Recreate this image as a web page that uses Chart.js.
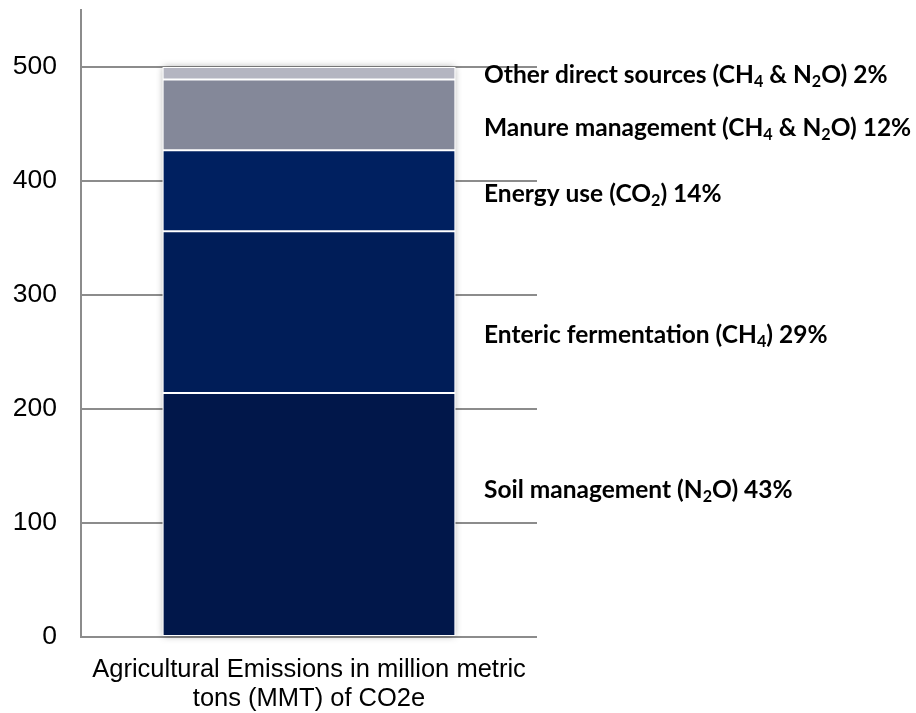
<!DOCTYPE html>
<html>
<head>
<meta charset="utf-8">
<script src="https://cdn.jsdelivr.net/npm/chart.js@4/dist/chart.umd.min.js"></script>
<style>
  html, body { margin: 0; padding: 0; background: #fff; }
  #wrap { width: 916px; height: 713px; position: relative; }
</style>
</head>
<body>
<div id="wrap"><canvas id="c" width="916" height="713"></canvas></div>
<script>
// ---- data ----
const categories = [["Agricultural Emissions in million metric", "tons (MMT) of CO2e"]];
const seriesNames = ["Soil management", "Enteric fermentation", "Energy use", "Manure management", "Other direct sources"];
const seriesValues = [214, 142, 71, 62, 11];
const seriesLabels = [
  "Soil management (N_2O) 43%",
  "Enteric fermentation (CH_4) 29%",
  "Energy use (CO_2) 14%",
  "Manure management (CH_4 & N_2O) 12%",
  "Other direct sources (CH_4 & N_2O) 2%"
];
const yTicks = [0, 100, 200, 300, 400, 500];

// ---- styles ----
const colors = ["#01174a", "#001d58", "#002060", "#848899", "#b4b5c1"];
const labelY = [490, 335, 194, 128, 75]; // pixel centres of the side labels
const labelX = 484;
const labelSize = 24.5;

const datasets = seriesValues.map((v, i) => ({
  label: seriesNames[i],
  data: [v],
  backgroundColor: colors[i],
  borderColor: "#ffffff",
  borderWidth: 1,
  borderSkipped: false,
  barPercentage: 0.642,
  categoryPercentage: 1.0
}));

const shadowPlugin = {
  id: "shadow",
  beforeDatasetsDraw(chart) {
    const ctx = chart.ctx;
    const m0 = chart.getDatasetMeta(0).data[0];
    const mt = chart.getDatasetMeta(datasets.length - 1).data[0];
    const left = m0.x - m0.width / 2, right = m0.x + m0.width / 2;
    const top = mt.y, bottom = m0.base;
    ctx.save();
    ctx.shadowColor = "rgba(0,0,0,0.35)";
    ctx.shadowBlur = 7;
    ctx.fillStyle = "#ffffff";
    ctx.fillRect(left, top, right - left, bottom - top);
    ctx.restore();
  }
};

function drawSubText(ctx, text, x, y, size) {
  const parts = text.split(/(_\d)/);
  let cx = x;
  parts.forEach(p => {
    if (!p) return;
    if (p[0] === "_") {
      ctx.font = "bold " + (size * 0.66).toFixed(1) + "px Lato, 'Liberation Sans', sans-serif";
      ctx.fillText(p.slice(1), cx, y + size * 0.26);
      cx += ctx.measureText(p.slice(1)).width;
    } else {
      ctx.font = "bold " + size + "px Lato, 'Liberation Sans', sans-serif";
      ctx.fillText(p, cx, y);
      cx += ctx.measureText(p).width;
    }
  });
}

const labelPlugin = {
  id: "sideLabels",
  afterDraw(chart) {
    const ctx = chart.ctx;
    ctx.save();
    ctx.fillStyle = "#000000";
    ctx.textBaseline = "middle";
    ctx.textAlign = "left";
    seriesLabels.forEach((t, i) => drawSubText(ctx, t, labelX, labelY[i], labelSize));
    ctx.restore();
  }
};

new Chart(document.getElementById("c"), {
  type: "bar",
  data: { labels: categories, datasets },
  plugins: [shadowPlugin, labelPlugin],
  options: {
    responsive: false,
    animation: false,
    layout: { padding: { top: 10, right: 379, left: 0, bottom: 0 } },
    plugins: { legend: { display: false }, tooltip: { enabled: false } },
    scales: {
      x: {
        stacked: true,
        grid: { display: false, drawTicks: false },
        border: { display: false },
        ticks: {
          color: "#000000",
          font: { family: "'Liberation Sans', Arial, sans-serif", size: 25.5, lineHeight: 1.16 },
          padding: 18,
          maxRotation: 0
        },
        afterFit(s) { s.height = 76; s.paddingLeft = 0; s.paddingRight = 0; }
      },
      y: {
        stacked: true,
        min: 0,
        max: 550,
        afterBuildTicks(s) { s.ticks = yTicks.map(v => ({ value: v })); },
        grid: { color: "#8c8c8c", lineWidth: 2, drawTicks: false },
        border: { display: true, color: "#8c8c8c", width: 2 },
        ticks: {
          color: "#000000",
          font: { family: "'Liberation Sans', Arial, sans-serif", size: 26.5 },
          padding: 24
        },
        afterFit(s) { s.width = 81; s.paddingTop = 0; s.paddingBottom = 0; }
      }
    }
  }
});
</script>
</body>
</html>
